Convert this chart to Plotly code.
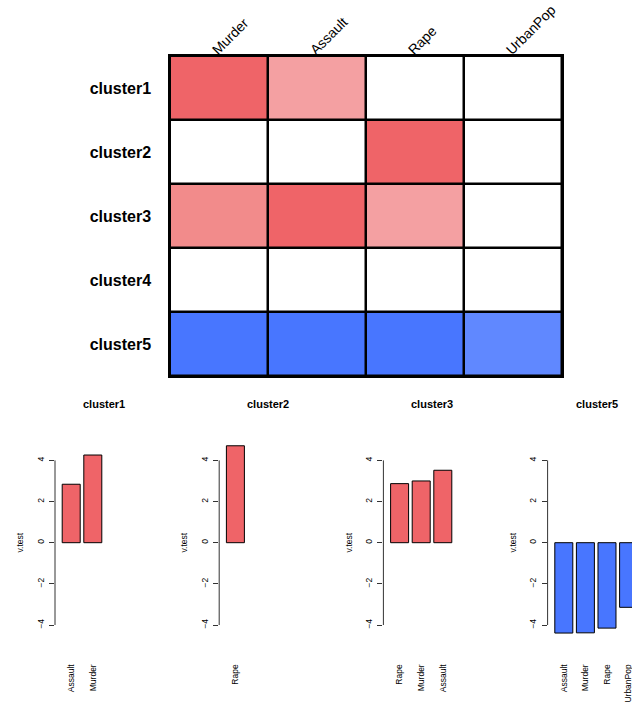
import plotly.graph_objects as go

# ---------------- data ----------------
variables = ["Murder", "Assault", "Rape", "UrbanPop"]
clusters = ["cluster1", "cluster2", "cluster3", "cluster4", "cluster5"]

c1_vars = ["Assault", "Murder"]
c1_vals = [2.84, 4.26]
c2_vars = ["Rape"]
c2_vals = [4.71]
c3_vars = ["Rape", "Murder", "Assault"]
c3_vals = [2.87, 3.00, 3.52]
c5_vars = ["Assault", "Murder", "Rape", "UrbanPop"]
c5_vals = [-4.39, -4.38, -4.15, -3.14]

panels = [("cluster1", c1_vars, c1_vals),
          ("cluster2", c2_vars, c2_vals),
          ("cluster3", c3_vars, c3_vals),
          ("cluster5", c5_vars, c5_vals)]

y_ticks = [-4, -2, 0, 2, 4]

# ---------------- style ----------------
W, H = 632, 702
FONT = "Liberation Sans, Arial, Helvetica, sans-serif"
RED = "#EF6468"
BLUE = "#4876FF"

def xd(px):
    return px / W

def yd(px):
    return 1 - px / H

# build heatmap matrix from panel data
lookup = {name: dict(zip(v, z)) for name, v, z in panels}
zmat = [[lookup.get(c, {}).get(v, 0.0) for v in variables] for c in clusters]

zmin, zmax = -5.0, 5.0
steps = [(-5.0, -3.6, BLUE), (-3.6, -2.0, "#6088FF"), (-2.0, 2.0, "#FFFFFF"),
         (2.0, 2.93, "#F4A0A2"), (2.93, 3.3, "#F28B8B"), (3.3, 5.0, RED)]
cscale = []
for a, b, col in steps:
    cscale.append([(a - zmin) / (zmax - zmin), col])
    cscale.append([(b - zmin) / (zmax - zmin), col])

fig = go.Figure()

fig.add_trace(go.Heatmap(
    z=zmat, x=variables, y=clusters, colorscale=cscale, zmin=zmin, zmax=zmax,
    showscale=False, xgap=2.5, ygap=2.5, xaxis="x", yaxis="y",
    hoverinfo="skip"))

layout = dict(
    width=W, height=H, margin=dict(l=0, r=0, t=0, b=0, autoexpand=False),
    paper_bgcolor="white", plot_bgcolor="white", showlegend=False,
    font=dict(family=FONT, color="black"),
    xaxis=dict(domain=[xd(170), xd(562)], side="top", tickangle=-45,
               showgrid=False, zeroline=False, ticks="", automargin=False,
               showline=True, mirror=True, linecolor="black", linewidth=1.5,
               tickfont=dict(size=14, family=FONT), anchor="y",
               ticklabelstandoff=-9, ticklabelshift=-6, ticklabeloverflow="allow"),
    yaxis=dict(domain=[yd(376), yd(56)], autorange="reversed",
               showgrid=False, zeroline=False, ticks="", automargin=False,
               showline=True, mirror=True, linecolor="black", linewidth=1.5,
               tickfont=dict(size=16, family=FONT, weight="bold"),
               ticklabelstandoff=14, anchor="x"),
)

shapes = [dict(type="rect", xref="x domain", yref="y domain", x0=0, x1=1,
               y0=0, y1=1, fillcolor="black", line=dict(width=0), layer="below")]
annotations = []

S = 21.6          # px per bar slot
x0u = -0.75       # left edge in slot units
panel_w = 98
y_top, y_bot = 439.8, 645.6

for k, (name, vnames, vals) in enumerate(panels):
    n = k + 2
    L = 55 + 164.2 * k
    R = min(L + panel_w, W)
    xs = list(range(len(vals)))
    fig.add_trace(go.Bar(
        x=xs, y=vals, width=18 / S,
        marker=dict(color=[RED if v > 0 else BLUE for v in vals],
                    line=dict(color="black", width=1)),
        xaxis=f"x{n}", yaxis=f"y{n}", hoverinfo="skip"))
    layout[f"xaxis{n}"] = dict(
        domain=[xd(L), xd(R)], range=[x0u, x0u + (R - L) / S],
        tickvals=xs, ticktext=vnames, tickangle=-90, ticks="",
        showgrid=False, zeroline=False, showline=False, automargin=False,
        tickfont=dict(size=8.5, family=FONT), ticklabelstandoff=16,
        ticklabeloverflow="allow", anchor=f"y{n}")
    layout[f"yaxis{n}"] = dict(
        domain=[yd(y_bot), yd(y_top)], range=[-5, 5],
        tickvals=y_ticks, ticktext=[("\u2212" + str(-t)) if t < 0 else str(t) for t in y_ticks],
        tickangle=-90, ticks="outside", ticklen=5, tickcolor="#333",
        showgrid=False, zeroline=False, showline=False, automargin=False,
        tickfont=dict(size=8.5, family=FONT), ticklabelstandoff=2,
        title=dict(text="v.test", font=dict(size=8.5, family=FONT), standoff=10),
        anchor=f"x{n}")
    shapes.append(dict(type="line", xref=f"x{n} domain", yref=f"y{n}",
                       x0=0, x1=0, y0=min(y_ticks), y1=max(y_ticks),
                       line=dict(color="#333", width=1)))
    annotations.append(dict(text=f"<b>{name}</b>", xref="paper", yref="paper",
                            x=xd(L + panel_w / 2), y=yd(404), showarrow=False,
                            xanchor="center", yanchor="middle",
                            font=dict(size=11, family=FONT)))

layout["shapes"] = shapes
layout["annotations"] = annotations
fig.update_layout(**layout)

fig.write_html("out.html", config={"displayModeBar": False},
               post_script="document.body.style.margin='0';document.body.style.overflow='hidden';")
